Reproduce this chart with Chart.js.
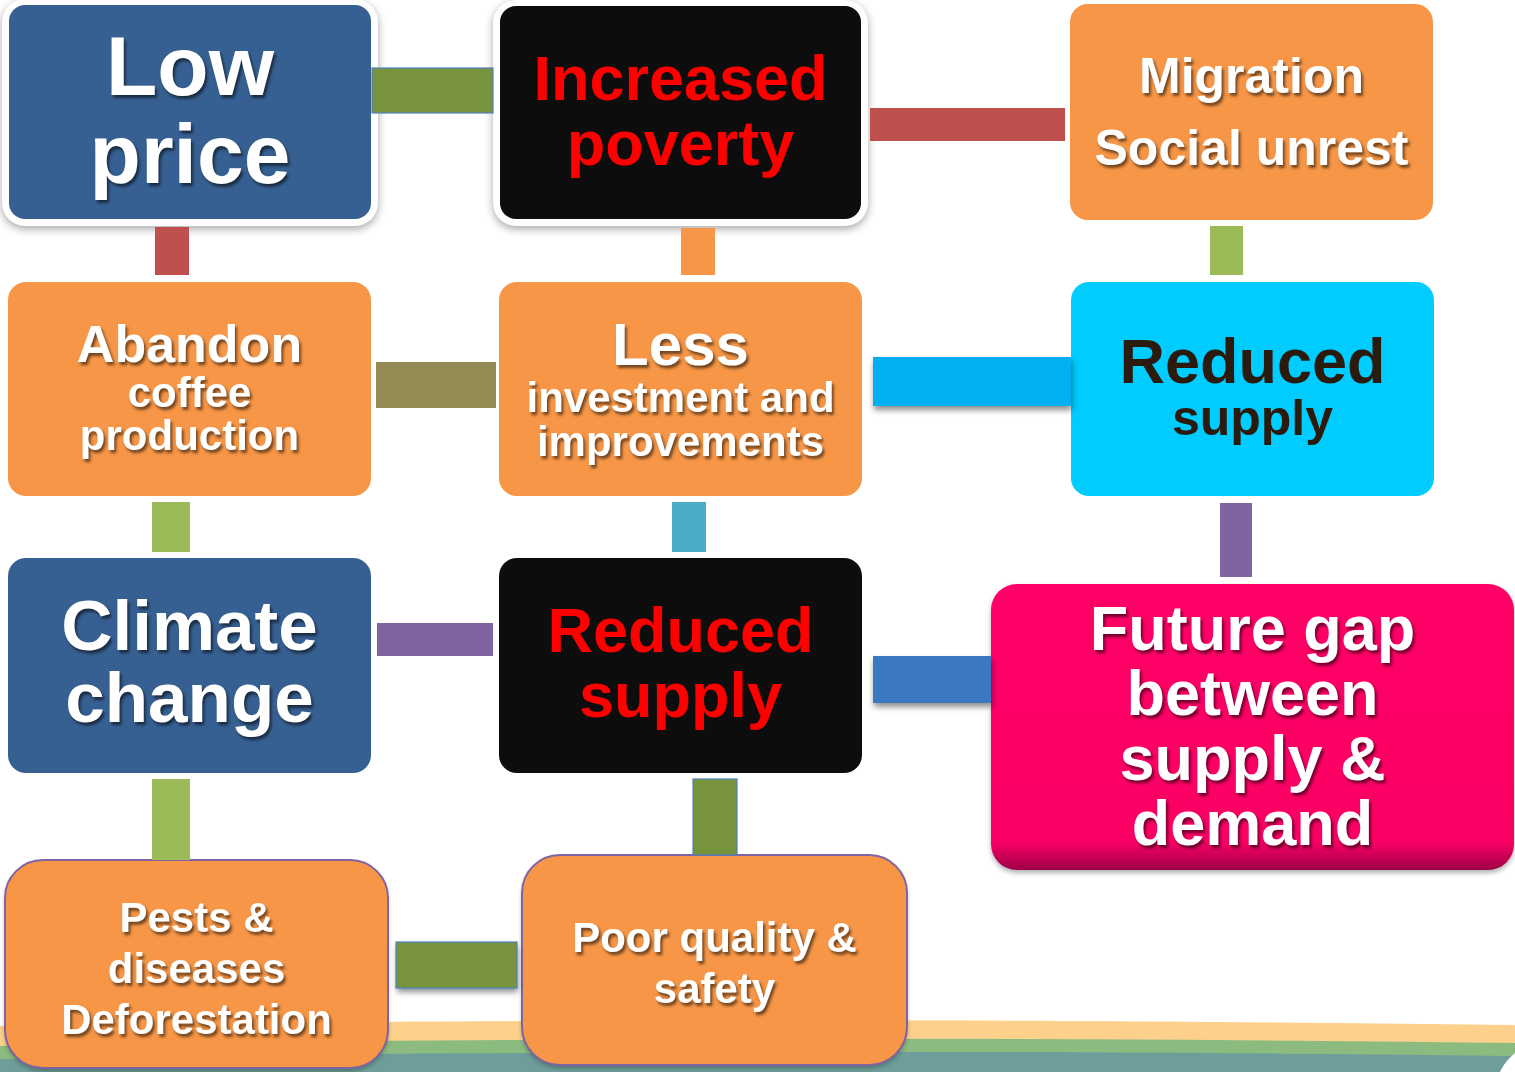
<!DOCTYPE html>
<html>
<head>
<meta charset="utf-8">
<script src="https://cdn.jsdelivr.net/npm/chart.js@4/dist/chart.umd.min.js"></script>
<style>
  html, body { margin: 0; padding: 0; background: #fff; overflow: hidden; }
  #wrap { width: 1515px; height: 1072px; }
</style>
</head>
<body>
<div id="wrap"><canvas id="c" width="1515" height="1072"></canvas></div>
<script>
// Texte des cases (une entrée par ligne)
const boxLabels = [
  ['Low', 'price'],
  ['Increased', 'poverty'],
  ['Migration', 'Social unrest'],
  ['Abandon', 'coffee', 'production'],
  ['Less', 'investment and', 'improvements'],
  ['Reduced', 'supply'],
  ['Climate', 'change'],
  ['Reduced', 'supply'],
  ['Future gap', 'between', 'supply &', 'demand'],
  ['Pests &', 'diseases', 'Deforestation'],
  ['Poor quality &', 'safety']
];
// position dans la grille
const boxCols = [0, 1, 2, 0, 1, 2, 0, 1, 2, 0, 1];
const boxRows = [0, 0, 0, 1, 1, 1, 2, 2, 2, 3, 3];
// liens entre cases
const linkFrom = [0, 1, 0, 1, 2, 3, 4, 5, 3, 4, 6, 7, 6, 7, 9];
const linkTo   = [1, 2, 3, 4, 5, 4, 5, 8, 6, 7, 7, 8, 9, 10, 10];

// ---- mise en page (unités des axes) ----
const boxGeom = [
  [9, 5, 371, 219], [500, 6, 861, 219], [1070, 4, 1433, 220],
  [8, 282, 371, 496], [499, 282, 862, 496], [1071, 282, 1434, 496],
  [8, 558, 371, 773], [499, 558, 862, 773], [991, 584, 1514, 870],
  [5, 860, 388, 1068], [522, 855, 907, 1065]
];
const linkGeom = [
  [372, 68, 493, 113], [870, 108, 1065, 141], [155, 227, 189, 275],
  [681, 228, 715, 275], [1210, 226, 1243, 275], [376, 362, 496, 408],
  [873, 357, 1071, 406], [1220, 503, 1252, 577], [152, 502, 190, 552],
  [672, 502, 706, 552], [377, 623, 493, 656], [873, 656, 991, 703],
  [152, 779, 190, 860], [693, 779, 737, 855], [396, 942, 517, 988]
];
const textSizes = [
  [84, 84], [63, 63], [50, 50], [52, 42, 42], [60, 42, 42], [63, 50],
  [71, 71], [63, 63], [63, 63, 63, 63], [42, 42, 42], [42, 42]
];
const textBase = [
  [95, 183], [100, 165], [93, 165], [362, 407, 450], [365, 412, 456], [383, 435],
  [650, 722], [652, 717], [650, 715, 780, 845], [932, 983, 1034], [952, 1003]
];

// ---- styles ----
const BLUE = '#376092', ORANGE = '#F79646', BLACK = '#0D0D0D';
const boxFill = [BLUE, BLACK, ORANGE, ORANGE, ORANGE, '#00CCFF', BLUE, BLACK, '#FF0066', ORANGE, ORANGE];
const boxText = ['#fff', '#FF0000', '#fff', '#fff', '#fff', '#2B1A0E', '#fff', '#FF0000', '#fff', '#fff', '#fff'];
const boxRadius = [16, 16, 18, 18, 18, 18, 18, 18, 26, 38, 38];
const linkFill = ['#77933C', '#C0504D', '#C0504D', '#F79646', '#9BBB59', '#948A54', '#00B0F0',
  '#8064A2', '#9BBB59', '#4BACC6', '#8064A2', '#3B78C2', '#9BBB59', '#77933C', '#77933C'];
const linkShadow = [0, 0, 0, 0, 0, 0, 1, 0, 0, 0, 0, 1, 0, 0, 1];
const FONT = '"Liberation Sans", Arial, sans-serif';

function rr(ctx, x0, y0, x1, y1, r) {
  ctx.beginPath();
  ctx.moveTo(x0 + r, y0);
  ctx.arcTo(x1, y0, x1, y1, r);
  ctx.arcTo(x1, y1, x0, y1, r);
  ctx.arcTo(x0, y1, x0, y0, r);
  ctx.arcTo(x0, y0, x1, y0, r);
  ctx.closePath();
}

const diagram = {
  id: 'diagram',
  beforeDatasetsDraw(chart) {
    const ctx = chart.ctx;
    const sx = chart.scales.x, sy = chart.scales.y;
    const X = v => sx.getPixelForValue(v);
    const Y = v => sy.getPixelForValue(v);

    // bandes décoratives du bas
    ctx.save();
    const bands = [['#FDD08C', 1026, 1019], ['#8CBB80', 1046, 1037], ['#6F9E9A', 1059, 1050]];
    bands.forEach(([c, yl, yr]) => {
      ctx.fillStyle = c;
      ctx.beginPath();
      ctx.moveTo(X(0), Y(yl));
      ctx.quadraticCurveTo(X(760), Y(yr - 4), X(1515), Y(yr + 6));
      ctx.lineTo(X(1515), Y(1072));
      ctx.lineTo(X(0), Y(1072));
      ctx.closePath();
      ctx.fill();
    });
    ctx.fillStyle = '#fff';
    ctx.beginPath();
    ctx.ellipse(X(1560), Y(1090), 64, 52, 0, 0, Math.PI * 2);
    ctx.fill();
    ctx.restore();

    // cases
    boxLabels.forEach((lines, i) => {
      const [x0, y0, x1, y1] = boxGeom[i].map((v, k) => k % 2 ? Y(v) : X(v));
      const r = boxRadius[i];
      ctx.save();
      if (boxRows[i] === 0 && boxCols[i] < 2) {
        // cadre blanc avec ombre
        ctx.shadowColor = 'rgba(0,0,0,0.35)';
        ctx.shadowBlur = 8;
        ctx.shadowOffsetY = 3;
        ctx.fillStyle = '#fff';
        rr(ctx, x0 - 7, y0 - 6, x1 + 7, y1 + 7, r + 7);
        ctx.fill();
        ctx.shadowColor = 'transparent';
      } else if (boxRows[i] === 3 || i === 8) {
        ctx.shadowColor = 'rgba(0,0,0,0.3)';
        ctx.shadowBlur = 5;
        ctx.shadowOffsetY = 3;
      }
      if (i === 8) {
        const g = ctx.createLinearGradient(0, y0, 0, y1);
        g.addColorStop(0, '#FF0066');
        g.addColorStop(0.9, '#FB0064');
        g.addColorStop(1, '#9E0046');
        ctx.fillStyle = g;
      } else {
        ctx.fillStyle = boxFill[i];
      }
      rr(ctx, x0, y0, x1, y1, r);
      ctx.fill();
      ctx.restore();
      if (boxRows[i] === 3) {
        ctx.strokeStyle = '#8064A2';
        ctx.lineWidth = 2;
        rr(ctx, x0, y0, x1, y1, r);
        ctx.stroke();
      }
    });

    // connecteurs
    linkFrom.forEach((f, i) => {
      const [x0, y0, x1, y1] = linkGeom[i];
      ctx.save();
      if (linkShadow[i]) {
        ctx.shadowColor = 'rgba(0,0,0,0.45)';
        ctx.shadowBlur = 6;
        ctx.shadowOffsetY = 4;
        ctx.shadowOffsetX = 1;
      }
      ctx.fillStyle = linkFill[i];
      ctx.fillRect(X(x0), Y(y0), X(x1) - X(x0), Y(y1) - Y(y0));
      ctx.restore();
      if (linkFill[i] === '#77933C') {
        ctx.strokeStyle = '#4F81BD';
        ctx.lineWidth = 1.2;
        ctx.strokeRect(X(x0), Y(y0), X(x1) - X(x0), Y(y1) - Y(y0));
      }
    });

    // texte
    boxLabels.forEach((lines, i) => {
      const cx = (X(boxGeom[i][0]) + X(boxGeom[i][2])) / 2;
      lines.forEach((t, k) => {
        ctx.save();
        ctx.font = 'bold ' + textSizes[i][k] + 'px ' + FONT;
        ctx.textAlign = 'center';
        ctx.textBaseline = 'alphabetic';
        if (boxText[i] === '#fff') {
          ctx.shadowColor = 'rgba(0,0,0,0.55)';
          ctx.shadowBlur = 3;
          ctx.shadowOffsetX = 2;
          ctx.shadowOffsetY = 3;
        }
        ctx.fillStyle = boxText[i];
        ctx.fillText(t, cx, Y(textBase[i][k]));
        ctx.restore();
      });
    });
  }
};

new Chart(document.getElementById('c'), {
  type: 'scatter',
  data: { datasets: [{ data: [] }] },
  options: {
    responsive: false,
    animation: false,
    layout: { padding: 0 },
    plugins: { legend: { display: false }, tooltip: { enabled: false } },
    scales: {
      x: { type: 'linear', min: 0, max: 1515, display: false },
      y: { type: 'linear', min: 0, max: 1072, reverse: true, display: false }
    }
  },
  plugins: [diagram]
});
</script>
</body>
</html>
